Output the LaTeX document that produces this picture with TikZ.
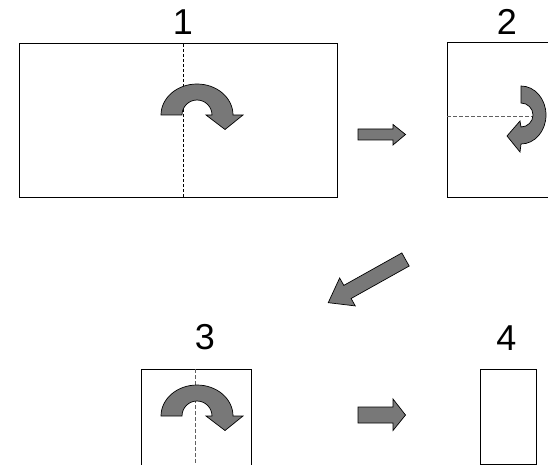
\documentclass[tikz,border=0pt]{standalone}
\usepackage{fontspec}
\setmainfont{Liberation Sans}
\definecolor{arrowgray}{HTML}{787878}
\definecolor{dashgray}{HTML}{606060}
\tikzset{
  panel/.style={draw=black, line width=1pt, fill=white, inner sep=0pt, outer sep=0pt},
  numlabel/.style={font=\fontsize{36}{40}\selectfont, inner sep=0pt},
  blockarrow/.style={fill=arrowgray, draw=black, line width=0.7pt, line join=miter},
  foldblack/.style={draw=black, line width=0.8pt, dash pattern=on 3pt off 2pt},
  foldgray/.style={draw=dashgray, line width=0.8pt, dash pattern=on 4pt off 2pt},
  turnright/.pic={
    \path[blockarrow] (-36,0) arc[start angle=180, end angle=0, x radius=36pt, y radius=31pt]
      -- (46,0) -- (28,-14.5) -- (9,0) -- (15,0)
      arc[start angle=0, end angle=180, x radius=15pt, y radius=15pt] -- cycle;
  },
  turndown/.pic={
    \path[blockarrow] (0,29) arc[start angle=90, end angle=-90, x radius=25pt, y radius=29pt]
      -- (-1,-37) -- (-14,-21) -- (-1,-6) -- (0,-12)
      arc[start angle=-90, end angle=90, x radius=12pt, y radius=12pt] -- cycle;
  }
}
\begin{document}
\begin{tikzpicture}[x=1pt, y=1pt, yscale=-1]
\useasboundingbox (0,0) rectangle (548,465);
\clip (0,0) rectangle (548,465);
% panels
\node[panel, minimum width=318pt, minimum height=153pt] (p1) at (178,120.5) {};
\node[panel, minimum width=159pt, minimum height=154pt] (p2) at (526.5,120) {};
\node[panel, minimum width=110pt, minimum height=120pt] (p3) at (196,429) {};
\node[panel, minimum width=56pt, minimum height=95pt] (p4) at (508,416.5) {};
% labels
\node[numlabel] (l1) at (183,22.5) {1};
\node[numlabel] (l2) at (507,22) {2};
\node[numlabel] (l3) at (205,337.5) {3};
\node[numlabel] (l4) at (506.5,338) {4};
% fold lines
\coordinate (f1a) at (183,44);
\coordinate (f1b) at (183,197);
\draw[foldblack] (f1a) -- (f1b);
\coordinate (f2a) at (447,116);
\coordinate (f2b) at (545,116);
\draw[foldgray] (f2a) -- (f2b);
\coordinate (f3a) at (195.5,369);
\coordinate (f3b) at (195.5,470);
\draw[foldgray] (f3a) -- (f3b);
% turning arrows
\pic at (197,115) {turnright};
\pic at (521,115) {turndown};
\pic at (197,416) {turnright};
% straight block arrows
\path[blockarrow] (358,129) -- (393,129) -- (393,124.5) -- (405.5,134.5) -- (393,145) -- (393,140) -- (358,140) -- cycle;
\path[blockarrow] (358,407) -- (393,407) -- (393,399) -- (405.5,415) -- (393,430.5) -- (393,423) -- (358,423) -- cycle;
% diagonal block arrow
\begin{scope}[shift={(405.5,259.5)}, rotate=150.8]
\path[blockarrow] (0,-7.5) -- (66.5,-7.5) -- (66.5,-16) -- (88.5,0) -- (66.5,16) -- (66.5,7.5) -- (0,7.5) -- cycle;
\end{scope}
\end{tikzpicture}
\end{document}
